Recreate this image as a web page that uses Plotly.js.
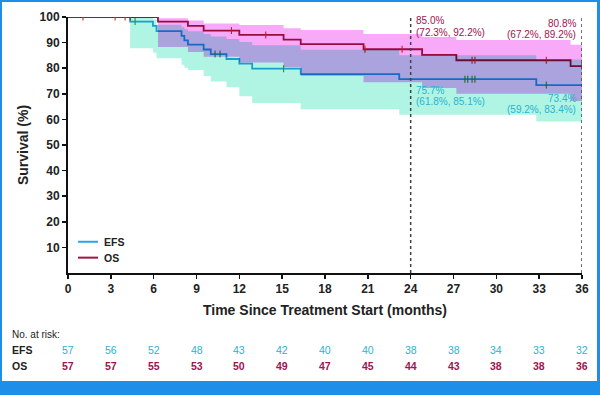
<!DOCTYPE html>
<html>
<head>
<meta charset="utf-8">
<script src="https://cdn.plot.ly/plotly-3.0.1.min.js"></script>
<style>
  html, body { margin: 0; padding: 0; background: #1e8fe8; }
  #frame { position: relative; width: 600px; height: 395px; background: #1e8fe8; overflow: hidden; }
  #chart { position: absolute; left: 2px; top: 2px; width: 595px; height: 379px; background: #fff; }
  #chart .js-fill { mix-blend-mode: multiply; }
</style>
</head>
<body>
<div id="frame"><div id="chart"></div></div>
<script>
// ---- Data ----
const efsTime  = [0, 4.35, 5.95, 6.2, 7.95, 8.15, 8.4, 9.5, 10.0, 11.1, 12.0, 12.9, 16.3, 23.2, 32.8, 36];
const efsSurv  = [100, 98.2, 96.5, 94.5, 92.6, 90.9, 89.2, 87.3, 85.5, 83.6, 81.8, 79.8, 77.7, 75.7, 73.4, 73.4];
const efsUpper = [100, 99.8, 99.0, 97.0, 96.0, 95.2, 94.4, 93.4, 92.4, 91.4, 90.2, 89.0, 87.2, 85.1, 83.4, 83.4];
const efsLower = [100, 87.8, 86.0, 83.9, 81.3, 80.2, 79.3, 77.0, 74.8, 72.6, 69.0, 66.4, 64.0, 61.8, 59.2, 59.2];
const efsCensor = [4.7, 10.3, 10.65, 15.1, 27.8, 28.0, 28.3, 28.5, 33.5];

const osTime  = [0, 6.3, 8.4, 9.5, 12.0, 15.1, 16.3, 20.7, 24.8, 27.2, 35.2, 36];
const osSurv  = [100, 98.2, 96.5, 94.7, 93.0, 91.2, 89.4, 87.4, 85.2, 83.1, 80.8, 80.8];
const osUpper = [100, 99.5, 98.6, 97.5, 96.9, 95.6, 94.9, 93.4, 92.2, 91.0, 89.2, 89.2];
const osLower = [100, 88.3, 86.3, 84.5, 82.2, 80.5, 77.0, 74.5, 72.3, 70.0, 67.2, 67.2];
const osCensor = [1.05, 3.3, 4.0, 4.35, 11.45, 13.85, 20.8, 23.4, 28.3, 28.5, 33.5, 36];

const riskTimes = [0, 3, 6, 9, 12, 15, 18, 21, 24, 27, 30, 33, 36];
const efsRisk = [57, 56, 52, 48, 43, 42, 40, 40, 38, 38, 34, 33, 32];
const osRisk  = [57, 57, 55, 53, 50, 49, 47, 45, 44, 43, 38, 38, 36];

const xTicks = [0, 3, 6, 9, 12, 15, 18, 21, 24, 27, 30, 33, 36];
const yTicks = [10, 20, 30, 40, 50, 60, 70, 80, 90, 100];

// ---- Styles ----
const EFS_COLOR = '#25a6e2';
const OS_COLOR = '#a0123f';
const EFS_BAND = '#b0f5e4';
const OS_BAND = '#f8aaf9';
const EFS_TEXT = '#2ab3d3';
const OS_TEXT = '#9c1450';
const FONT = 'Liberation Sans, Arial, sans-serif';

function stepAt(times, vals, t) {
  let v = vals[0];
  for (let i = 0; i < times.length; i++) { if (times[i] <= t) v = vals[i]; }
  return v;
}

const traces = [
  { x: efsTime, y: efsSurv, mode: 'lines', line: { shape: 'hv', color: EFS_COLOR, width: 1.8 }, name: 'EFS', showlegend: false, hoverinfo: 'skip' },
  { x: osTime, y: osSurv, mode: 'lines', line: { shape: 'hv', color: OS_COLOR, width: 1.8 }, name: 'OS', showlegend: false, hoverinfo: 'skip' },
  { x: efsCensor, y: efsCensor.map(t => stepAt(efsTime, efsSurv, t)), mode: 'markers',
    marker: { symbol: 'line-ns-open', size: 5, line: { color: '#1f6fd6', width: 1.1 } }, showlegend: false, hoverinfo: 'skip' },
  { x: osCensor, y: osCensor.map(t => stepAt(osTime, osSurv, t)), mode: 'markers',
    marker: { symbol: 'line-ns-open', size: 5, line: { color: OS_COLOR, width: 1.1 } }, showlegend: false, hoverinfo: 'skip' },
  { x: efsTime, y: efsLower, mode: 'lines', line: { shape: 'hv', width: 0 }, showlegend: false, hoverinfo: 'skip' },
  { x: efsTime, y: efsUpper, mode: 'lines', line: { shape: 'hv', width: 0 }, fill: 'tonexty', fillcolor: EFS_BAND, showlegend: false, hoverinfo: 'skip' },
  { x: osTime, y: osLower, mode: 'lines', line: { shape: 'hv', width: 0 }, showlegend: false, hoverinfo: 'skip' },
  { x: osTime, y: osUpper, mode: 'lines', line: { shape: 'hv', width: 0 }, fill: 'tonexty', fillcolor: OS_BAND, showlegend: false, hoverinfo: 'skip' }
];

const annotations = [];
function ann(o) { annotations.push(Object.assign({ showarrow: false, font: { family: FONT, size: 10, color: '#222' } }, o)); }

// Estimate labels
ann({ x: 24, y: 98.8, xref: 'x', yref: 'y', xanchor: 'left', yanchor: 'middle', xshift: 3, text: '85.0%', font: { family: FONT, size: 10, color: OS_TEXT } });
ann({ x: 24, y: 94.1, xref: 'x', yref: 'y', xanchor: 'left', yanchor: 'middle', xshift: 3, text: '(72.3%, 92.2%)', font: { family: FONT, size: 10, color: OS_TEXT } });
ann({ x: 36, y: 97.3, xref: 'x', yref: 'y', xanchor: 'right', yanchor: 'middle', xshift: -4, text: '80.8%', font: { family: FONT, size: 10, color: OS_TEXT } });
ann({ x: 36, y: 93.0, xref: 'x', yref: 'y', xanchor: 'right', yanchor: 'middle', xshift: -4, text: '(67.2%, 89.2%)', font: { family: FONT, size: 10, color: OS_TEXT } });
ann({ x: 24, y: 71.2, xref: 'x', yref: 'y', xanchor: 'left', yanchor: 'middle', xshift: 3, text: '75.7%', font: { family: FONT, size: 10, color: EFS_TEXT } });
ann({ x: 24, y: 67.0, xref: 'x', yref: 'y', xanchor: 'left', yanchor: 'middle', xshift: 3, text: '(61.8%, 85.1%)', font: { family: FONT, size: 10, color: EFS_TEXT } });
ann({ x: 36, y: 68.3, xref: 'x', yref: 'y', xanchor: 'right', yanchor: 'middle', xshift: -4, text: '73.4%', font: { family: FONT, size: 10, color: EFS_TEXT } });
ann({ x: 36, y: 63.7, xref: 'x', yref: 'y', xanchor: 'right', yanchor: 'middle', xshift: -4, text: '(59.2%, 83.4%)', font: { family: FONT, size: 10, color: EFS_TEXT } });

// Manual legend
ann({ x: 0.066, y: 0.122, xref: 'paper', yref: 'paper', xanchor: 'left', yanchor: 'middle', text: 'EFS', font: { family: FONT, size: 10.5, color: '#222', weight: 'bold' } });
ann({ x: 0.066, y: 0.060, xref: 'paper', yref: 'paper', xanchor: 'left', yanchor: 'middle', text: 'OS', font: { family: FONT, size: 10.5, color: '#222', weight: 'bold' } });

// Number at risk table
ann({ x: -0.1128, y: -0.241, xref: 'paper', yref: 'paper', xanchor: 'left', yanchor: 'middle', text: 'No. at risk:', font: { family: FONT, size: 10, color: '#222' } });
ann({ x: -0.1128, y: -0.2996, xref: 'paper', yref: 'paper', xanchor: 'left', yanchor: 'middle', text: 'EFS', font: { family: FONT, size: 10.5, color: '#222', weight: 'bold' } });
ann({ x: -0.1128, y: -0.362, xref: 'paper', yref: 'paper', xanchor: 'left', yanchor: 'middle', text: 'OS', font: { family: FONT, size: 10.5, color: '#222', weight: 'bold' } });
riskTimes.forEach((t, i) => {
  ann({ x: t, y: -0.2996, xref: 'x', yref: 'paper', xanchor: 'center', yanchor: 'middle', text: String(efsRisk[i]), font: { family: FONT, size: 10.5, color: EFS_TEXT } });
  ann({ x: t, y: -0.362, xref: 'x', yref: 'paper', xanchor: 'center', yanchor: 'middle', text: String(osRisk[i]), font: { family: FONT, size: 10.5, color: OS_TEXT, weight: 'bold' } });
});

const shapes = [
  { type: 'line', xref: 'x', yref: 'y', x0: 24, x1: 24, y0: 0, y1: 101, line: { color: '#3a4450', width: 1.5, dash: 'dot' } },
  { type: 'line', xref: 'x', yref: 'y', x0: 36, x1: 36, y0: 0, y1: 101, line: { color: '#3a4450', width: 1.5, dash: 'dot' } },
  { type: 'line', xref: 'paper', yref: 'paper', x0: 0.0195, x1: 0.0584, y0: 0.122, y1: 0.122, line: { color: EFS_COLOR, width: 2 } },
  { type: 'line', xref: 'paper', yref: 'paper', x0: 0.0195, x1: 0.0584, y0: 0.060, y1: 0.060, line: { color: OS_COLOR, width: 2 } }
];

const layout = {
  width: 595, height: 379,
  margin: { l: 66, r: 15, t: 15, b: 108 },
  paper_bgcolor: '#ffffff', plot_bgcolor: '#ffffff',
  showlegend: false,
  font: { family: FONT, color: '#222' },
  xaxis: {
    range: [0, 36], tickvals: xTicks, ticktext: xTicks.map(String),
    ticks: 'outside', ticklen: 4, tickwidth: 1.5, tickcolor: '#111',
    showline: true, linecolor: '#111', linewidth: 2, showgrid: false, zeroline: false,
    tickfont: { family: FONT, size: 12, color: '#222', weight: 'bold' },
    title: { text: 'Time Since Treatment Start (months)', font: { family: FONT, size: 14, color: '#222', weight: 'bold' }, standoff: 10 },
    automargin: false, fixedrange: true
  },
  yaxis: {
    range: [0, 100], tickvals: yTicks, ticktext: yTicks.map(String),
    ticks: 'outside', ticklen: 4, tickwidth: 1.5, tickcolor: '#111',
    showline: true, linecolor: '#111', linewidth: 2, showgrid: false, zeroline: false,
    tickfont: { family: FONT, size: 12, color: '#222', weight: 'bold' },
    title: { text: 'Survival (%)', font: { family: FONT, size: 14, color: '#222', weight: 'bold' }, standoff: 8 },
    automargin: false, fixedrange: true
  },
  shapes: shapes,
  annotations: annotations
};

Plotly.newPlot('chart', traces, layout, { displayModeBar: false, staticPlot: true });
</script>
</body>
</html>
